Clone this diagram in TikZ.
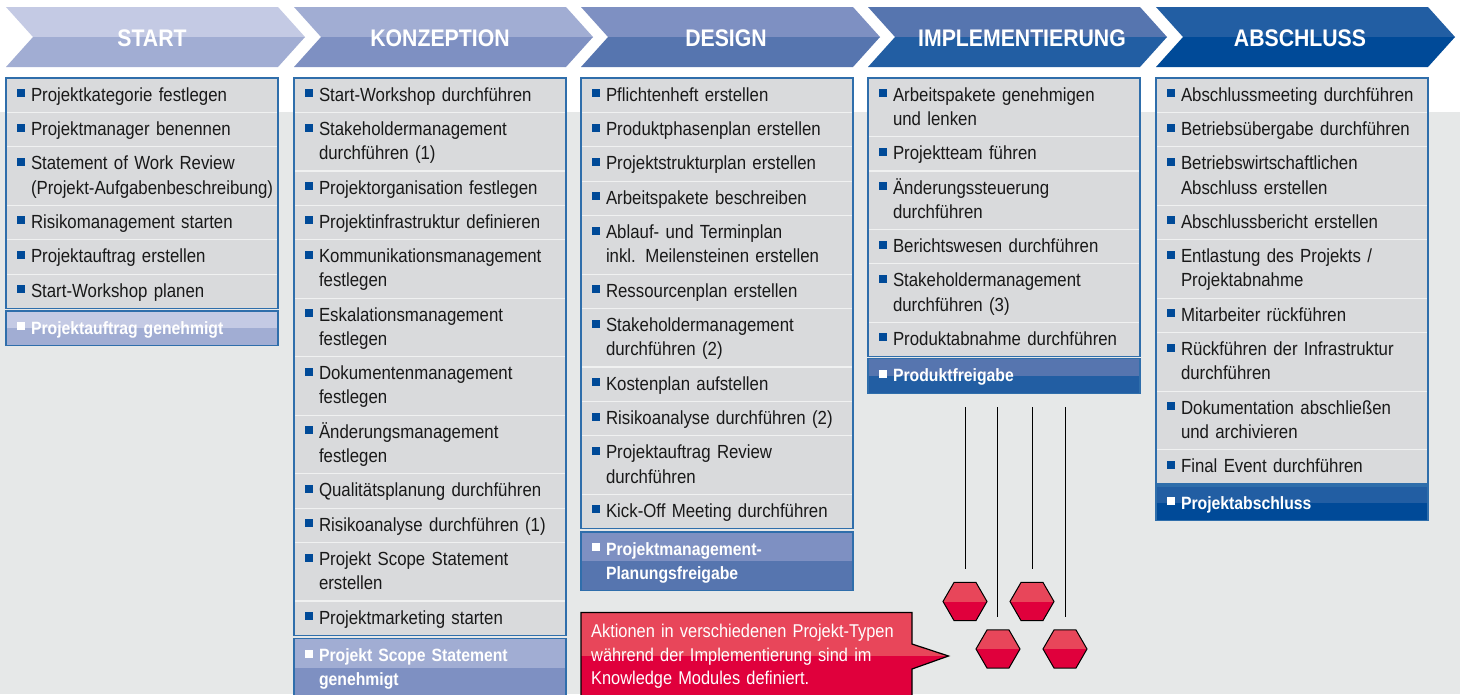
\documentclass[tikz,border=0pt]{standalone}
\usepackage{fontspec}
\setmainfont[FakeStretch=0.885]{Liberation Sans}
\usetikzlibrary{positioning,fit,shapes.geometric}

\definecolor{pageback}{HTML}{E6E8E8}
\definecolor{itemgrey}{HTML}{D9DADC}
\definecolor{rowline}{HTML}{F0F1F1}
\definecolor{frameblue}{HTML}{2F6EAB}
\definecolor{markblue}{HTML}{004A98}
\definecolor{toneA}{HTML}{C4CAE4}
\definecolor{toneB}{HTML}{A1ADD3}
\definecolor{toneC}{HTML}{7E90C2}
\definecolor{toneD}{HTML}{5675AF}
\definecolor{toneE}{HTML}{225EA3}
\definecolor{toneF}{HTML}{004A98}
\definecolor{redup}{HTML}{E8465A}
\definecolor{reddown}{HTML}{E0003C}

\newcommand{\itemmark}[1]{\llap{\textcolor{#1}{\rule[4pt]{8pt}{8pt}}\hspace{6pt}}}
\newcommand{\topstrut}{\rule{0pt}{18pt}}
\newcommand{\botstrut}{\rule[-6.1pt]{0pt}{6.1pt}}

\tikzset{
  rowbase/.style={anchor=north,outer sep=0pt,inner xsep=0pt,inner ysep=5.15pt,
    text width=272pt,align=left,execute at end node=\botstrut},
  item/.style={rowbase,fill=itemgrey,draw=rowline,line width=1.2pt,text=black!90,
    font=\fontsize{19}{24.1}\selectfont,
    execute at begin node={\leftskip=25pt\topstrut\itemmark{markblue}}},
  colframe/.style={draw=frameblue,line width=1.2pt,inner sep=0pt,outer sep=0pt},
  twotone/.style n args={2}{path picture={
    \fill[#1] (path picture bounding box.north west) rectangle (path picture bounding box.east);
    \fill[#2] (path picture bounding box.west) rectangle (path picture bounding box.south east);}},
  gate/.style n args={2}{rowbase,draw=frameblue,line width=1.2pt,twotone={#1}{#2},text=white,
    font=\fontsize{17.8}{24.1}\selectfont\bfseries,
    execute at begin node={\leftskip=25pt\topstrut\itemmark{white}}},
  hexa/.style={regular polygon,regular polygon sides=6,minimum size=44pt,inner sep=0pt,
    outer sep=0pt,draw=black,line width=1pt,twotone={redup}{reddown}},
  wire/.style={draw=black,line width=1.2pt},
  phaselabel/.style={text=white,font=\fontsize{24}{26}\selectfont\bfseries},
}

\begin{document}
\begin{tikzpicture}[x=1pt,y=-1pt,node distance=0pt]
\clip (0,0) rectangle (1460,694);
\fill[white] (0,0) rectangle (1460,694);
\fill[pageback] (0,112) rectangle (1460,694);

% phase bars
\foreach \x/\up/\down in {6/toneA/toneB,294/toneB/toneC,581/toneC/toneD,868/toneD/toneE,1156/toneE/toneF}{
  \fill[\up] (\x,7) -- ++(272,0) -- ++(27,30) -- ++(-272,0) -- cycle;
  \fill[\down] (\x,67) -- ++(272,0) -- ++(27,-30) -- ++(-272,0) -- cycle;
}
\node[phaselabel] (pstart) at (152,38) {START};
\node[phaselabel] (pkonz) at (440,38) {KONZEPTION};
\node[phaselabel] (pdes) at (726,38) {DESIGN};
\node[phaselabel] (pimpl) at (1022,38) {IMPLEMENTIERUNG};
\node[phaselabel] (pabs) at (1300,38) {ABSCHLUSS};

% start
\node[item] (s1) at (142,78) {Projektkategorie festlegen};
\node[item,below=of s1] (s2) {Projektmanager benennen};
\node[item,below=of s2] (s3) {Statement of Work Review\\(Projekt-Aufgabenbeschreibung)};
\node[item,below=of s3] (s4) {Risikomanagement starten};
\node[item,below=of s4] (s5) {Projektauftrag erstellen};
\node[item,below=of s5] (s6) {Start-Workshop planen};
\node[colframe,fit=(s1)(s6)] (sframe) {};
\node[gate={toneA}{toneB},below=2.5pt of sframe] (sgate) {Projektauftrag genehmigt};

% konzeption
\node[item] (k1) at (430,78) {Start-Workshop durchführen};
\node[item,below=of k1] (k2) {Stakeholdermanagement\\durchführen (1)};
\node[item,below=of k2] (k3) {Projektorganisation festlegen};
\node[item,below=of k3] (k4) {Projektinfrastruktur definieren};
\node[item,below=of k4] (k5) {Kommunikationsmanagement\\festlegen};
\node[item,below=of k5] (k6) {Eskalationsmanagement\\festlegen};
\node[item,below=of k6] (k7) {Dokumentenmanagement\\festlegen};
\node[item,below=of k7] (k8) {Änderungsmanagement\\festlegen};
\node[item,below=of k8] (k9) {Qualitätsplanung durchführen};
\node[item,below=of k9] (k10) {Risikoanalyse durchführen (1)};
\node[item,below=of k10] (k11) {Projekt Scope Statement\\erstellen};
\node[item,below=of k11] (k12) {Projektmarketing starten};
\node[colframe,fit=(k1)(k12)] (kframe) {};
\node[gate={toneB}{toneC},below=3.3pt of kframe] (kgate) {Projekt Scope Statement\\genehmigt};

% design
\node[item] (d1) at (717,78) {Pflichtenheft erstellen};
\node[item,below=of d1] (d2) {Produktphasenplan erstellen};
\node[item,below=of d2] (d3) {Projektstrukturplan erstellen};
\node[item,below=of d3] (d4) {Arbeitspakete beschreiben};
\node[item,below=of d4] (d5) {Ablauf- und Terminplan\\inkl. Meilensteinen erstellen};
\node[item,below=of d5] (d6) {Ressourcenplan erstellen};
\node[item,below=of d6] (d7) {Stakeholdermanagement\\durchführen (2)};
\node[item,below=of d7] (d8) {Kostenplan aufstellen};
\node[item,below=of d8] (d9) {Risikoanalyse durchführen (2)};
\node[item,below=of d9] (d10) {Projektauftrag Review\\durchführen};
\node[item,below=of d10] (d11) {Kick-Off Meeting durchführen};
\node[colframe,fit=(d1)(d11)] (dframe) {};
\node[gate={toneC}{toneD},below=3.3pt of dframe] (dgate) {Projektmanagement-\\Planungsfreigabe};

% implementierung
\node[item] (i1) at (1004,78) {Arbeitspakete genehmigen\\und lenken};
\node[item,below=of i1] (i2) {Projektteam führen};
\node[item,below=of i2] (i3) {Änderungssteuerung\\durchführen};
\node[item,below=of i3] (i4) {Berichtswesen durchführen};
\node[item,below=of i4] (i5) {Stakeholdermanagement\\durchführen (3)};
\node[item,below=of i5] (i6) {Produktabnahme durchführen};
\node[colframe,fit=(i1)(i6)] (iframe) {};
\node[gate={toneD}{toneE},below=2pt of iframe] (igate) {Produktfreigabe};

% abschluss
\node[item] (a1) at (1292,78) {Abschlussmeeting durchführen};
\node[item,below=of a1] (a2) {Betriebsübergabe durchführen};
\node[item,below=of a2] (a3) {Betriebswirtschaftlichen\\Abschluss erstellen};
\node[item,below=of a3] (a4) {Abschlussbericht erstellen};
\node[item,below=of a4] (a5) {Entlastung des Projekts /\\Projektabnahme};
\node[item,below=of a5] (a6) {Mitarbeiter rückführen};
\node[item,below=of a6] (a7) {Rückführen der Infrastruktur\\durchführen};
\node[item,below=of a7] (a8) {Dokumentation abschließen\\und archivieren};
\node[item,below=of a8] (a9) {Final Event durchführen};
\node[colframe,fit=(a1)(a9)] (aframe) {};
\node[gate={toneE}{toneF},below=2pt of aframe] (agate) {Projektabschluss};

% knowledge modules
\foreach \n/\x/\y in {1/965.5/568.5,2/997.5/616.5,3/1032.5/568.5,4/1065.5/616.5}{
  \coordinate (w\n a) at (\x,407);
  \coordinate (w\n b) at (\x,\y);
  \draw[wire] (w\n a) -- (w\n b);
}
\node[hexa] (h1) at (965,601.5) {};
\node[hexa] (h2) at (1032,601.5) {};
\node[hexa] (h3) at (998,649) {};
\node[hexa] (h4) at (1065,649) {};

% callout
\fill[redup] (581,612.5) -- (912,612.5) -- (912,644) -- (948.5,656) -- (581,656) -- cycle;
\fill[reddown] (581,656) -- (948.5,656) -- (912,669) -- (912,700) -- (581,700) -- cycle;
\draw[black,line width=1.2pt] (581,700) -- (581,612.5) -- (912,612.5) -- (912,644) -- (948.5,656) -- (912,669) -- (912,700);
\node[anchor=north west,inner sep=0pt,text=white,align=left,text width=320pt,
  font=\fontsize{18.5}{23.6}\selectfont] (note) at (591,621) {\strut Aktionen in verschiedenen Projekt-Typen\\während der Implementierung sind im\\Knowledge Modules definiert.};
\end{tikzpicture}
\end{document}
